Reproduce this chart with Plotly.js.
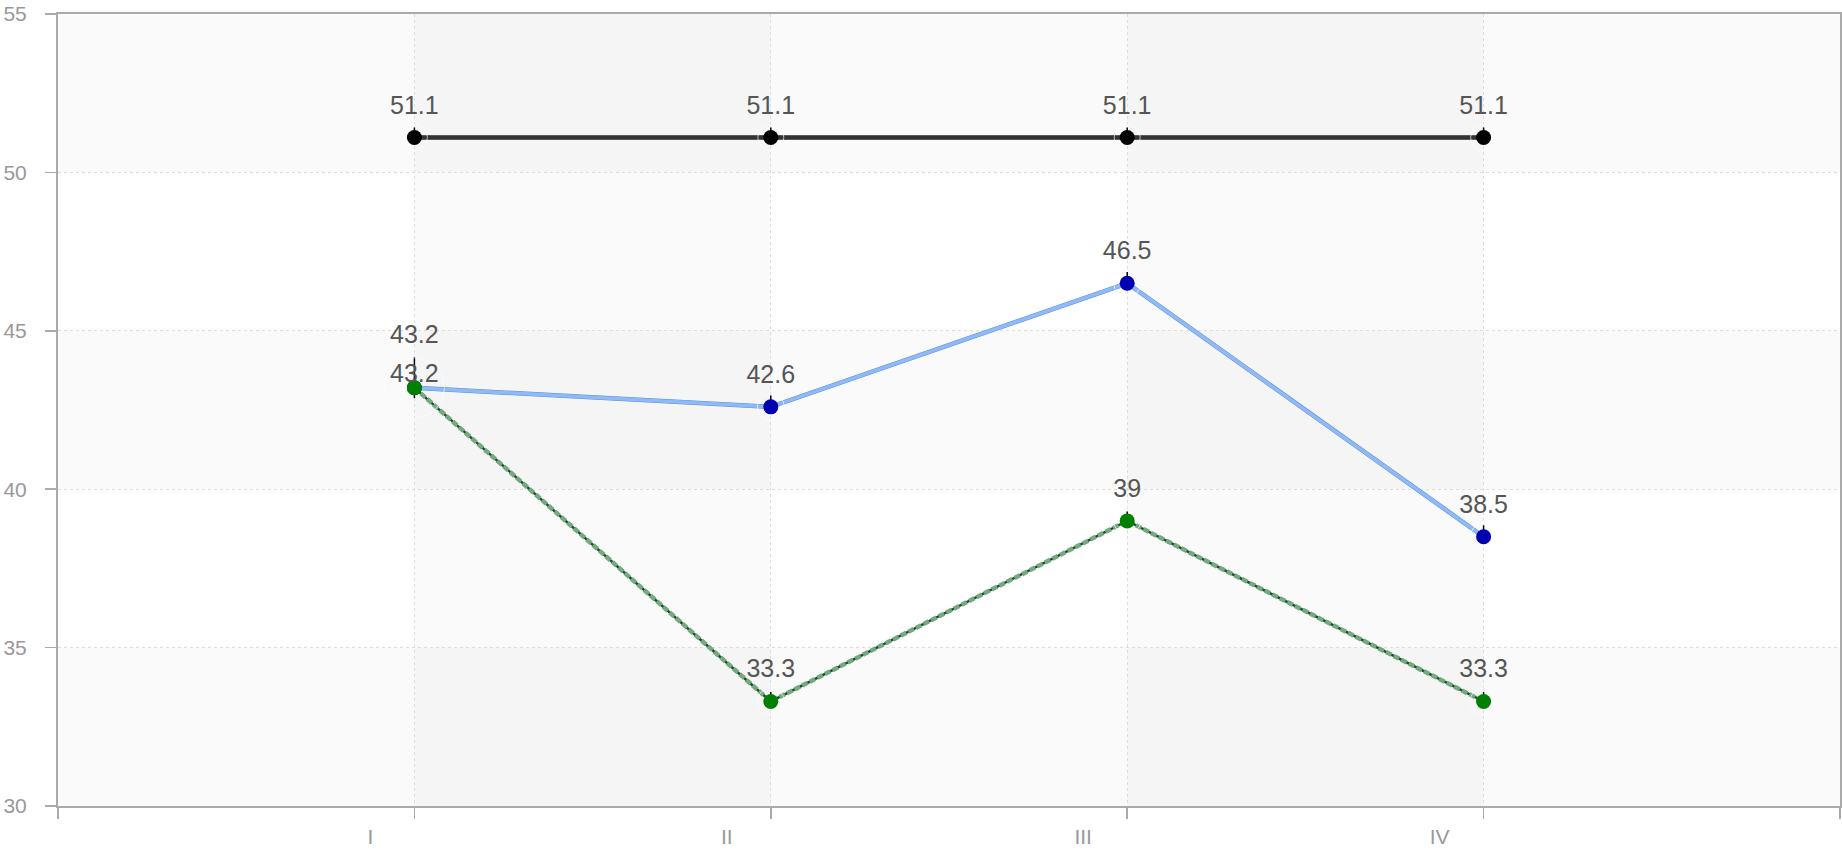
<!DOCTYPE html>
<html>
<head>
<meta charset="utf-8">
<script src="https://cdn.plot.ly/plotly-3.0.1.min.js"></script>
<style>html,body{margin:0;padding:0;background:#fff;}#chart{width:1842px;height:851px;}</style>
</head>
<body>
<div id="chart"></div>
<script>
// ---- data ----
const categories = ['I', 'II', 'III', 'IV'];
const blackValues = [51.1, 51.1, 51.1, 51.1];
const blueValues = [43.2, 42.6, 46.5, 38.5];
const greenValues = [43.2, 33.3, 39, 33.3];
const yTicks = [30, 35, 40, 45, 50, 55];

const xIdx = categories.map((c, i) => i + 1);
const fmt = v => String(v);
const FONT = '"Liberation Sans", Arial, sans-serif';
const LABEL_FONT = {family: FONT, size: 25, color: '#555'};

function tickErr(up, down) {
  return {type: 'data', symmetric: false, array: up, arrayminus: down,
          width: 0, thickness: 1.5, color: '#000'};
}
// label carrier: transparent markers whose size sets label offset
function labels(values, sizes) {
  return {
    x: xIdx, y: values, mode: 'markers+text',
    text: values.map(fmt), textposition: 'top center',
    textfont: LABEL_FONT,
    marker: {color: 'rgba(0,0,0,0)', size: sizes},
    hoverinfo: 'skip', showlegend: false
  };
}

const traces = [
  { // blue underlay (shadow edge)
    x: xIdx, y: blueValues, mode: 'lines',
    line: {color: '#5a8ee0', width: 4.5},
    hoverinfo: 'skip', showlegend: false
  },
  { // blue series
    x: xIdx, y: blueValues, mode: 'lines+markers',
    line: {color: '#8fbaf5', width: 3.5},
    marker: {color: '#0000b0', size: 15},
    error_y: tickErr([0.97, 0.36, 0.36, 0.36], [0.32, 0, 0, 0]),
    hoverinfo: 'x+y', showlegend: false
  },
  { // green underlay
    x: xIdx, y: greenValues, mode: 'lines',
    line: {color: '#1f4d2a', width: 2.5},
    hoverinfo: 'skip', showlegend: false
  },
  { // green series
    x: xIdx, y: greenValues, mode: 'lines+markers',
    line: {color: '#74aa80', width: 4.5, dash: '6px,2.5px'},
    marker: {color: '#008000', size: 15},
    error_y: tickErr([0.3, 0.3, 0.3, 0.3], [0, 0, 0, 0]),
    hoverinfo: 'x+y', showlegend: false
  },
  { // black underlay
    x: xIdx, y: blackValues, mode: 'lines',
    line: {color: '#666', width: 5},
    hoverinfo: 'skip', showlegend: false
  },
  { // black series
    x: xIdx, y: blackValues, mode: 'lines+markers',
    line: {color: '#333', width: 3.5},
    marker: {color: '#000', size: 15},
    error_y: tickErr([0.32, 0.32, 0.32, 0.32], [0, 0, 0, 0]),
    hoverinfo: 'x+y', showlegend: false
  },
  labels(blueValues, [60, 27, 27, 27]),
  labels(greenValues, [0, 27, 27, 27]),
  labels(blackValues, [26, 26, 26, 26])
];

// background bands (styling)
const shapes = [];
const nX = categories.length + 1;
for (let i = 0; i < yTicks.length - 1; i++) {
  if ((yTicks.length - 2 - i) % 2 === 0) {
    shapes.push({type: 'rect', layer: 'below', xref: 'paper', yref: 'y',
      x0: 0, x1: 1, y0: yTicks[i], y1: yTicks[i + 1],
      fillcolor: 'rgba(0,0,0,0.02)', line: {width: 0}});
  }
}
for (let i = 1; i < nX; i += 2) {
  shapes.push({type: 'rect', layer: 'below', xref: 'x', yref: 'paper',
    x0: i, x1: i + 1, y0: 0, y1: 1,
    fillcolor: 'rgba(0,0,0,0.02)', line: {width: 0}});
}

const layout = {
  width: 1842, height: 851,
  margin: {l: 58, r: 2, t: 14, b: 45},
  paper_bgcolor: '#fff', plot_bgcolor: '#fff',
  font: {family: FONT, color: '#999'},
  showlegend: false,
  shapes: shapes,
  xaxis: {
    type: 'linear', range: [0, nX], fixedrange: true,
    tickmode: 'array',
    tickvals: [0].concat(xIdx, [nX]),
    ticktext: [''].concat(categories, ['']),
    ticks: 'outside', ticklen: 11, tickwidth: 1.5, tickcolor: '#aaa',
    tickfont: {family: FONT, size: 21, color: '#999'},
    ticklabelshift: -44, ticklabelstandoff: 0,
    showgrid: true, gridcolor: '#ddd', gridwidth: 1, griddash: 'dot',
    showline: true, linecolor: '#aaa', linewidth: 2, mirror: true,
    zeroline: false
  },
  yaxis: {
    range: [yTicks[0], yTicks[yTicks.length - 1]], fixedrange: true,
    tickmode: 'array', tickvals: yTicks,
    ticks: 'outside', ticklen: 11, tickwidth: 1.5, tickcolor: '#aaa',
    tickfont: {family: FONT, size: 21, color: '#999'},
    ticklabelstandoff: 14,
    showgrid: true, gridcolor: '#ddd', gridwidth: 1, griddash: 'dot',
    showline: true, linecolor: '#aaa', linewidth: 2, mirror: true,
    zeroline: false
  }
};

Plotly.newPlot('chart', traces, layout, {displayModeBar: false, staticPlot: true});
</script>
</body>
</html>
